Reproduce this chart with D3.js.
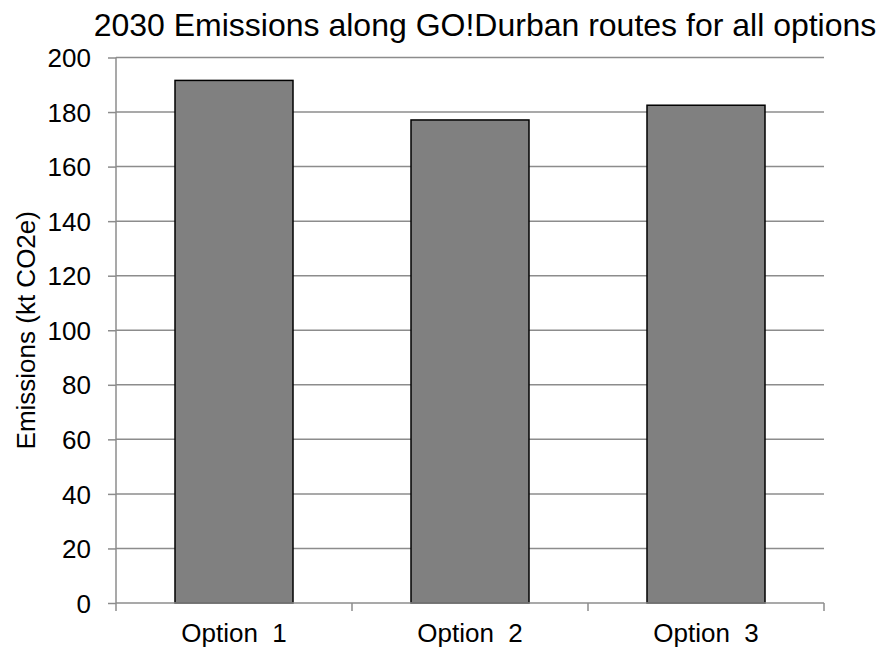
<!DOCTYPE html>
<html><head><meta charset="utf-8">
<script src="https://cdn.jsdelivr.net/npm/d3@7"></script>
<style>body{margin:0;background:#fff}svg text{font-family:"Liberation Sans",Arial,sans-serif;fill:#000}</style>
</head><body><svg id="c" width="879" height="648"></svg>
<script>
const categories = ["Option  1", "Option  2", "Option  3"];
const values = [191.6, 177.1, 182.5];
const yTicks = [0, 20, 40, 60, 80, 100, 120, 140, 160, 180, 200];
const title = "2030 Emissions along GO!Durban routes for all options";
const yLabel = "Emissions (kt CO2e)";

const svg = d3.select("#c");
const L = 116, R = 824, T = 57.5, B = 603;
const x = d3.scaleBand().domain(categories).range([L, R]).paddingInner(0.5).paddingOuter(0.25);
const y = d3.scaleLinear().domain([0, 200]).range([B, T]);
const FS = 26;

// gridlines
svg.append("g").selectAll("line").data(yTicks.filter(d => d > 0)).join("line")
  .attr("x1", L).attr("x2", R).attr("y1", d => y(d)).attr("y2", d => y(d))
  .attr("stroke", "#8c8c8c").attr("stroke-width", 1.5);

// bars
svg.append("g").selectAll("rect").data(values).join("rect")
  .attr("x", (d, i) => x(categories[i])).attr("width", x.bandwidth())
  .attr("y", d => y(d)).attr("height", d => B - y(d))
  .attr("fill", "#808080").attr("stroke", "#000").attr("stroke-width", 1.5);

// y axis
const ya = svg.append("g").attr("transform", `translate(${L},0)`)
  .call(d3.axisLeft(y).tickValues(yTicks).tickSize(8).tickPadding(17).tickFormat(d3.format("d")));
ya.attr("font-size", null).attr("font-family", null);
ya.select(".domain").attr("stroke", "#8c8c8c").attr("stroke-width", 1.5).attr("d", `M0,${T}V${B}`);
ya.selectAll(".tick line").attr("stroke", "#8c8c8c").attr("stroke-width", 1.5);
ya.selectAll(".tick text").style("font-size", FS + "px").attr("dy", "0.35em").attr("fill", "#000");

// x axis
const xa = svg.append("g").attr("transform", `translate(0,${B})`);
xa.append("line").attr("x1", L).attr("x2", R).attr("stroke", "#8c8c8c").attr("stroke-width", 1.5);
const bounds = [0, 1, 2, 3].map(i => L + i * (R - L) / 3);
xa.selectAll("line.t").data(bounds).join("line").attr("class", "t")
  .attr("x1", d => d).attr("x2", d => d).attr("y1", 0).attr("y2", 8)
  .attr("stroke", "#8c8c8c").attr("stroke-width", 1.5);
xa.selectAll("text").data(categories).join("text")
  .attr("x", d => x(d) + x.bandwidth() / 2).attr("y", 39)
  .attr("text-anchor", "middle").style("font-size", FS + "px").style("white-space", "pre")
  .text(d => d);

// title
svg.append("text").attr("x", 485).attr("y", 36).attr("text-anchor", "middle")
  .style("font-size", "32px").text(title);

// y label
svg.append("text").attr("transform", `translate(35,${(T + B) / 2}) rotate(-90)`)
  .attr("text-anchor", "middle").style("font-size", FS + "px").text(yLabel);
</script></body></html>
